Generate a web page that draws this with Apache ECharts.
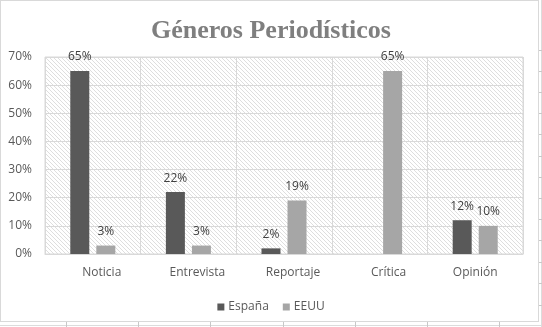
<!DOCTYPE html>
<html>
<head>
<meta charset="utf-8">
<script src="https://cdn.jsdelivr.net/npm/echarts@6/dist/echarts.min.js"></script>
<style>
  html, body { margin: 0; padding: 0; background: #ffffff; }
  #wrap { position: relative; width: 542px; height: 327px; overflow: hidden; }
  #chart { position: absolute; left: 0; top: 0; width: 542px; height: 327px; }
  .frame { position: absolute; left: 0; top: 0; width: 537px; height: 320px; border: 1px solid #d9d9d9; box-sizing: content-box; pointer-events: none; }
  .vline { position: absolute; left: 541px; top: 0; width: 1px; height: 327px; background: #dcdcdc; }
  .hline { position: absolute; left: 0; top: 325px; width: 542px; height: 1px; background: #dcdcdc; }
  .tick-v { position: absolute; top: 322px; width: 1px; height: 5px; background: #c8c8c8; }
  .tick-h { position: absolute; left: 539px; width: 3px; height: 1px; background: #c8c8c8; }
</style>
</head>
<body>
<div id="wrap">
  <div class="vline"></div>
  <div class="hline"></div>
  <div class="tick-v" style="left:66px"></div>
  <div class="tick-v" style="left:138px"></div>
  <div class="tick-v" style="left:210px"></div>
  <div class="tick-v" style="left:283px"></div>
  <div class="tick-v" style="left:355px"></div>
  <div class="tick-v" style="left:427px"></div>
  <div class="tick-v" style="left:499px"></div>
  <div class="tick-h" style="top:50px"></div>
  <div class="tick-h" style="top:71px"></div>
  <div class="tick-h" style="top:92px"></div>
  <div class="tick-h" style="top:113px"></div>
  <div class="tick-h" style="top:134px"></div>
  <div class="tick-h" style="top:156px"></div>
  <div class="tick-h" style="top:177px"></div>
  <div class="tick-h" style="top:198px"></div>
  <div class="tick-h" style="top:219px"></div>
  <div class="tick-h" style="top:240px"></div>
  <div class="tick-h" style="top:262px"></div>
  <div class="tick-h" style="top:283px"></div>
  <div class="tick-h" style="top:305px"></div>
  <div id="chart"></div>
  <div class="frame"></div>
</div>
<script>
// Genres and shares per country
const categories = ['Noticia', 'Entrevista', 'Reportaje', 'Crítica', 'Opinión'];
const espana = [0.65, 0.22, 0.02, null, 0.12];
const eeuu = [0.03, 0.03, 0.19, 0.65, 0.10];
const yTicks = [0, 0.1, 0.2, 0.3, 0.4, 0.5, 0.6, 0.7];

// Diagonal hatch used as the plot-area background
function hatchPattern() {
  const c = document.createElement('canvas');
  c.width = 4; c.height = 4;
  const ctx = c.getContext('2d');
  ctx.fillStyle = '#ffffff';
  ctx.fillRect(0, 0, 4, 4);
  ctx.fillStyle = '#dedede';
  for (let i = 0; i < 4; i++) ctx.fillRect(i, i, 1, 1);
  return { image: c, repeat: 'repeat' };
}

const pct = v => Math.round(v * 100) + '%';
const textFont = "'Open Sans', 'DejaVu Sans', sans-serif";

const chart = echarts.init(document.getElementById('chart'), null, { renderer: 'canvas' });
chart.setOption({
  animation: false,
  backgroundColor: 'transparent',
  title: {
    text: 'Géneros Periodísticos',
    left: 'center',
    top: 13,
    textStyle: {
      fontFamily: "'Liberation Serif', 'DejaVu Serif', serif",
      fontWeight: 'bold',
      fontSize: 26,
      color: '#7f7f7f'
    }
  },
  legend: {
    data: ['España', 'EEUU'],
    bottom: 9,
    left: 'center',
    itemWidth: 7,
    itemHeight: 7,
    itemGap: 14,
    icon: 'rect',
    textStyle: { color: '#595959', fontSize: 12, fontFamily: textFont, padding: [0, 0, 0, -1] }
  },
  grid: {
    left: 45,
    top: 57,
    width: 478,
    height: 197,
    show: true,
    backgroundColor: hatchPattern(),
    borderColor: '#d9d9d9',
    borderWidth: 1,
    containLabel: false
  },
  xAxis: {
    type: 'category',
    data: categories,
    axisLine: { lineStyle: { color: '#d9d9d9' } },
    axisTick: { show: false },
    splitLine: { show: true, interval: 0, lineStyle: { color: '#d9d9d9' } },
    axisLabel: {
      interval: 0,
      hideOverlap: false,
      color: '#595959',
      fontSize: 12,
      fontFamily: textFont,
      margin: 13,
      // the first four labels sit slightly right of their category centre
      formatter: (v, i) => (i < categories.length - 1 ? '{s|' + v + '}' : '{c|' + v + '}'),
      rich: {
        s: { color: '#595959', fontSize: 12, fontFamily: textFont, padding: [0, 0, 0, 18] },
        c: { color: '#595959', fontSize: 12, fontFamily: textFont }
      }
    }
  },
  yAxis: {
    type: 'value',
    min: yTicks[0],
    max: yTicks[yTicks.length - 1],
    interval: 0.1,
    axisLine: { show: false },
    axisTick: { show: false },
    splitLine: { lineStyle: { color: '#d9d9d9' } },
    axisLabel: { color: '#595959', fontSize: 12, fontFamily: textFont, margin: 13, formatter: v => pct(v) }
  },
  series: [
    {
      name: 'España',
      type: 'bar',
      data: espana,
      barWidth: 19,
      barGap: '37%',
      itemStyle: { color: '#595959' },
      label: { show: true, position: 'top', distance: 8, color: '#404040', fontSize: 12, fontFamily: textFont, formatter: p => pct(p.value) }
    },
    {
      name: 'EEUU',
      type: 'bar',
      data: eeuu,
      barWidth: 19,
      barGap: '37%',
      itemStyle: { color: '#a6a6a6' },
      label: { show: true, position: 'top', distance: 8, color: '#404040', fontSize: 12, fontFamily: textFont, formatter: p => pct(p.value) }
    }
  ]
});
</script>
</body>
</html>
